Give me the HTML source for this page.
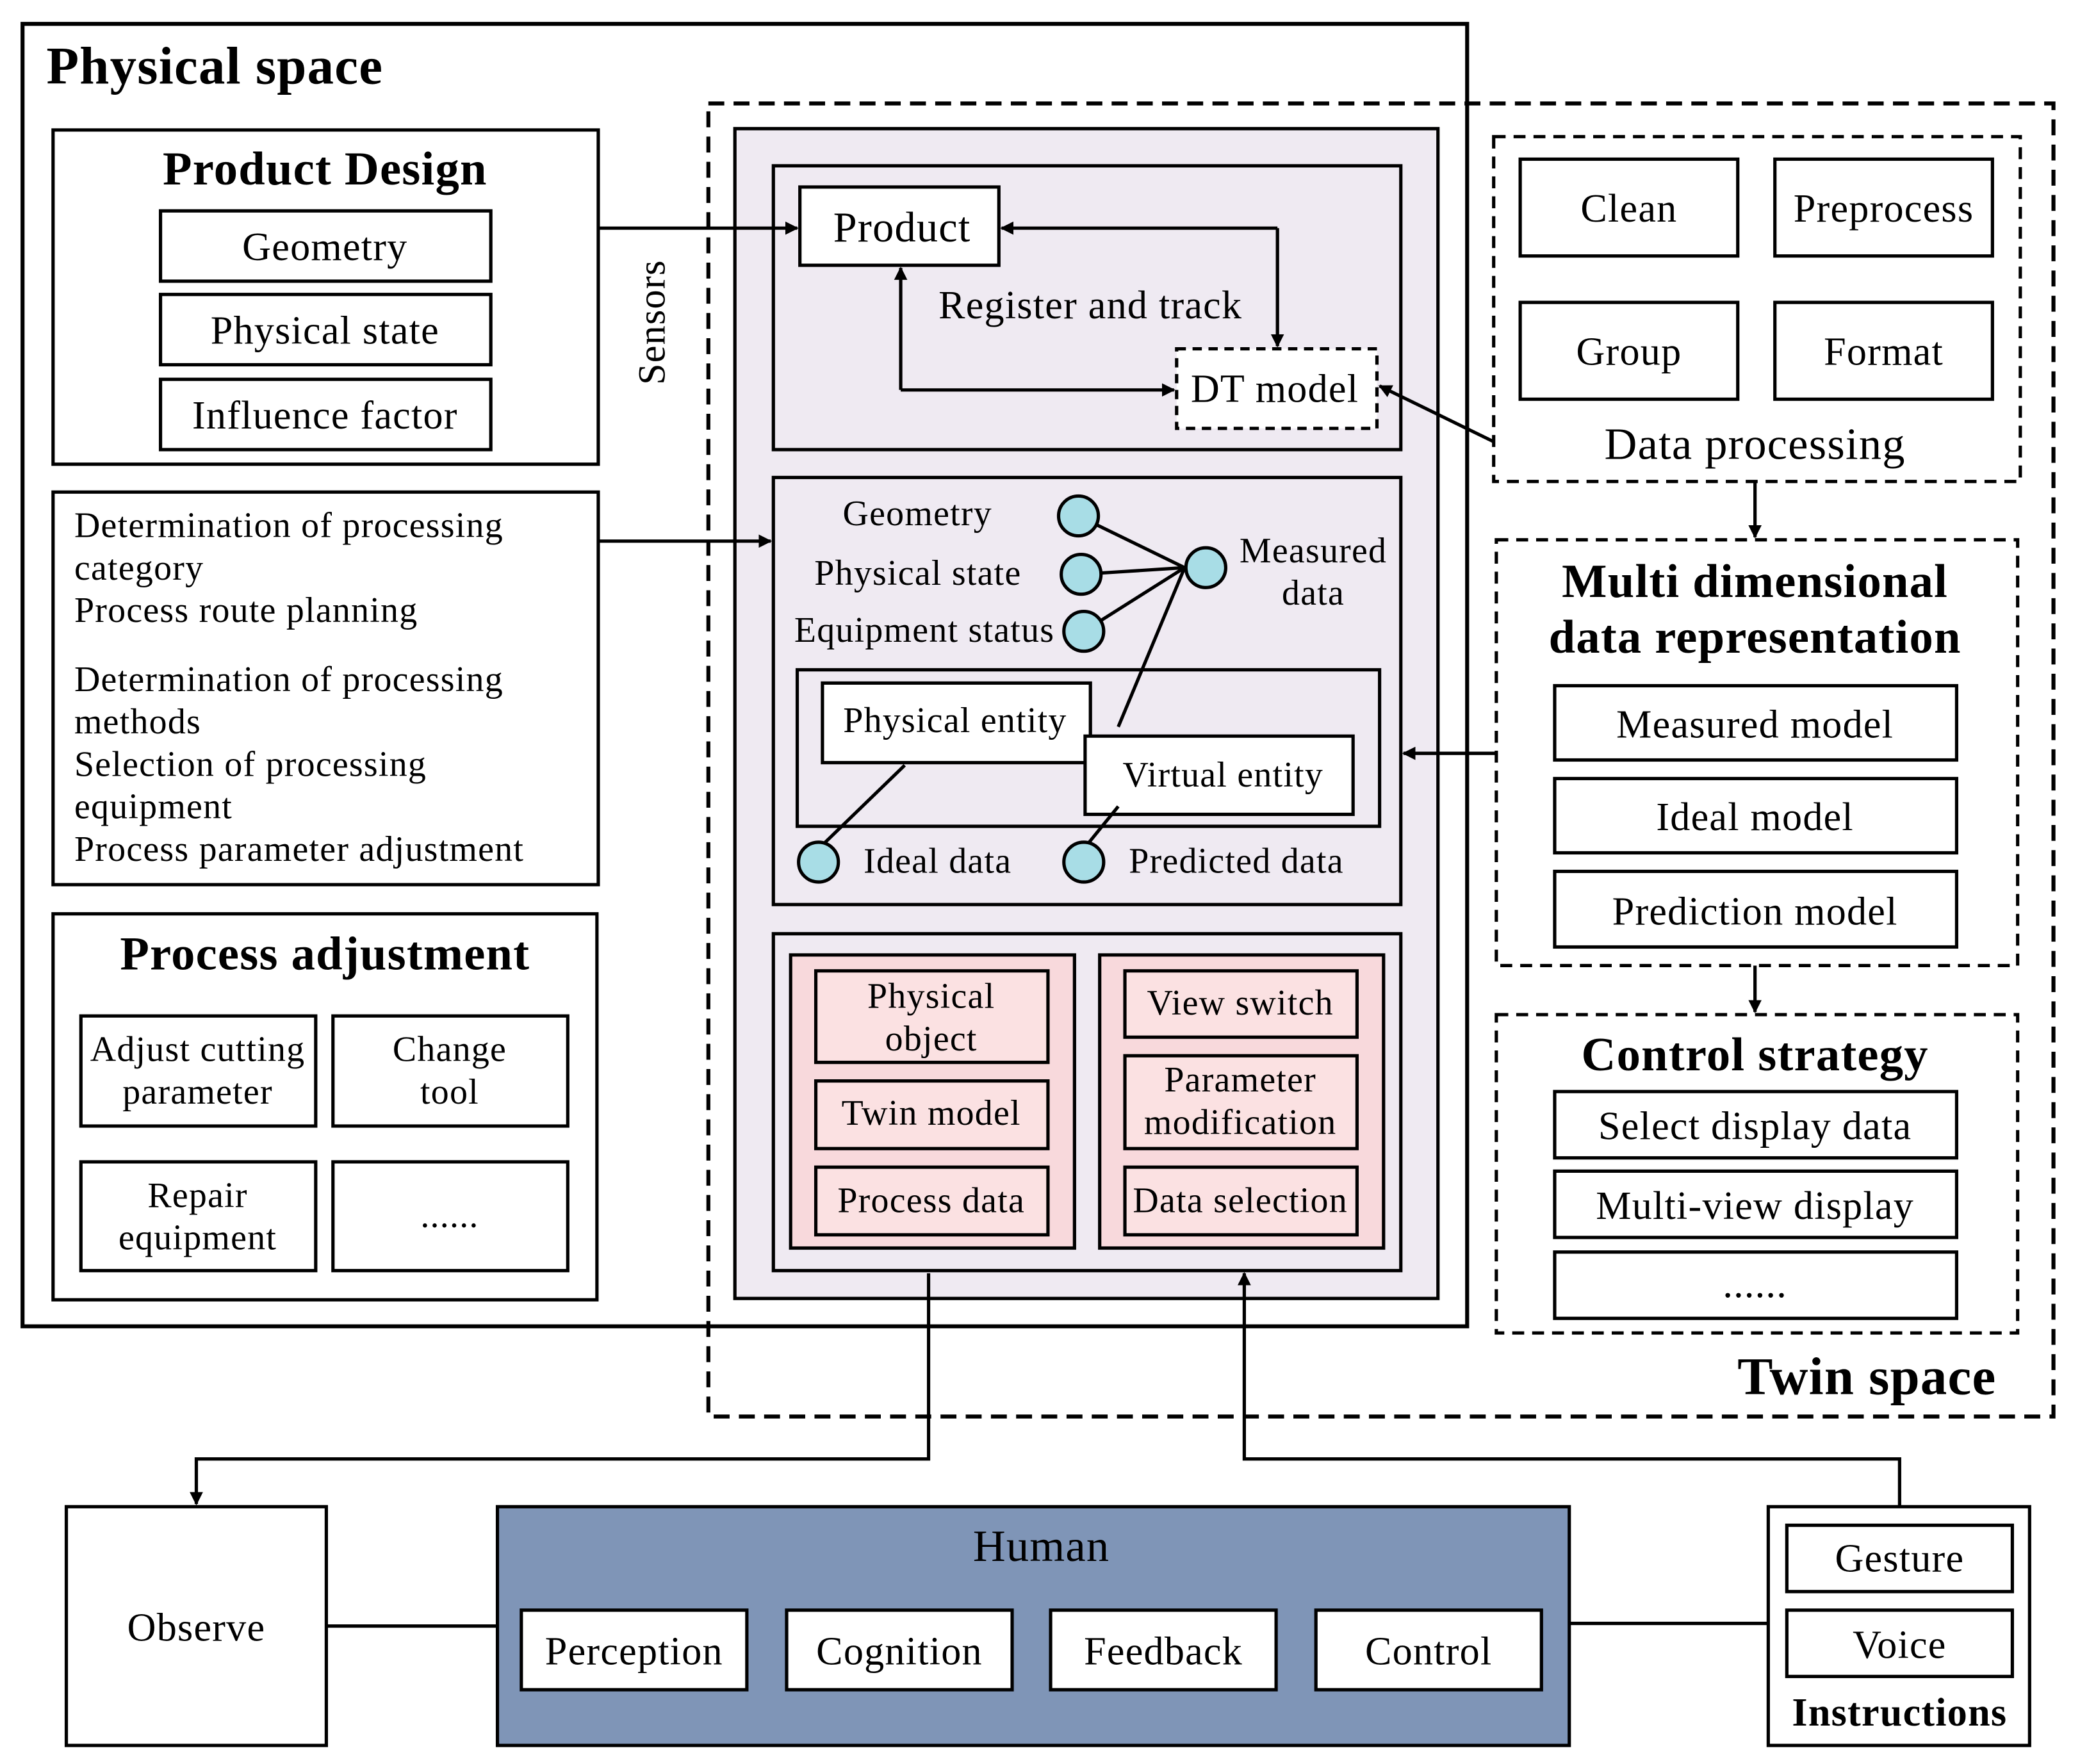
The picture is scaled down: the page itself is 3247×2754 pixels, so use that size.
<!DOCTYPE html>
<html><head><meta charset="utf-8"><style>
html,body{margin:0;padding:0;background:#fff;}
svg{display:block;}
text{font-family:"Liberation Serif",serif;fill:#000;letter-spacing:0.6px;}
</style></head><body>
<svg width="3247" height="2754" viewBox="0 0 1568 1330" preserveAspectRatio="none" xmlns="http://www.w3.org/2000/svg">
<defs>
<marker id="ah" markerWidth="10" markerHeight="10" refX="9" refY="5" orient="auto" markerUnits="userSpaceOnUse">
<path d="M0,0 L10,5 L0,10 z" fill="#000"/></marker>
</defs>
<g stroke="#000" fill="none">
<rect x="17" y="18" width="1089" height="982" stroke-width="3"/>
<rect x="534" y="78" width="1014" height="990" stroke-width="3" stroke-dasharray="12,7"/>
<rect x="40" y="98" width="411" height="252" stroke-width="2.5"/>
<rect x="121" y="159" width="249" height="53" stroke-width="2.5"/>
<rect x="121" y="222" width="249" height="53" stroke-width="2.5"/>
<rect x="121" y="286" width="249" height="53" stroke-width="2.5"/>
<rect x="40" y="371" width="411" height="296" stroke-width="2.5"/>
<rect x="40" y="689" width="410" height="291" stroke-width="2.5"/>
<rect x="61" y="766" width="177" height="83" stroke-width="2.5"/>
<rect x="251" y="766" width="177" height="83" stroke-width="2.5"/>
<rect x="61" y="876" width="177" height="82" stroke-width="2.5"/>
<rect x="251" y="876" width="177" height="82" stroke-width="2.5"/>
<rect x="554" y="97" width="530" height="882" fill="#efeaf2" stroke-width="2.5"/>
<rect x="583" y="125" width="473" height="214" stroke-width="2.5"/>
<rect x="603" y="141" width="150" height="59" fill="#fff" stroke-width="2.5"/>
<rect x="887" y="263" width="151" height="60" fill="#fff" stroke-width="2.5" stroke-dasharray="7,5"/>
<rect x="583" y="360" width="473" height="322" stroke-width="2.5"/>
<rect x="601" y="505" width="439" height="118" stroke-width="2.5"/>
<rect x="620" y="515" width="202" height="60" fill="#fff" stroke-width="2.5"/>
<rect x="818" y="555" width="202" height="59" fill="#fff" stroke-width="2.5"/>
<rect x="583" y="704" width="473" height="254" stroke-width="2.5"/>
<rect x="596" y="720" width="214" height="221" fill="#f8d9dc" stroke-width="2.5"/>
<rect x="829" y="720" width="214" height="221" fill="#f8d9dc" stroke-width="2.5"/>
<g fill="#fbe1e2" stroke-width="2.5">
<rect x="615" y="732" width="175" height="69"/>
<rect x="615" y="815" width="175" height="51"/>
<rect x="615" y="880" width="175" height="51"/>
<rect x="848" y="732" width="175" height="50"/>
<rect x="848" y="796" width="175" height="70"/>
<rect x="848" y="880" width="175" height="51"/>
</g>
<g stroke-width="2.5">
<line x1="813" y1="389" x2="893" y2="428"/>
<line x1="815" y1="433" x2="893" y2="428"/>
<line x1="817" y1="476" x2="893" y2="428"/>
<line x1="893" y1="428" x2="843" y2="548"/>
<line x1="617" y1="640" x2="682" y2="577"/>
<line x1="817" y1="640" x2="843" y2="608"/>
</g>
<g fill="#a8dde6" stroke-width="2.5">
<circle cx="813" cy="389" r="15"/><circle cx="815" cy="433" r="15"/><circle cx="817" cy="476" r="15"/>
<circle cx="909" cy="428" r="15"/><circle cx="617" cy="650" r="15"/><circle cx="817" cy="650" r="15"/>
</g>
<rect x="1126" y="103" width="397" height="260" stroke-width="2.5" stroke-dasharray="9,6"/>
<rect x="1146" y="120" width="164" height="73" stroke-width="2.5"/>
<rect x="1338" y="120" width="164" height="73" stroke-width="2.5"/>
<rect x="1146" y="228" width="164" height="73" stroke-width="2.5"/>
<rect x="1338" y="228" width="164" height="73" stroke-width="2.5"/>
<rect x="1128" y="407" width="393" height="321" stroke-width="2.5" stroke-dasharray="9,6"/>
<rect x="1172" y="517" width="303" height="56" stroke-width="2.5"/>
<rect x="1172" y="587" width="303" height="56" stroke-width="2.5"/>
<rect x="1172" y="657" width="303" height="57" stroke-width="2.5"/>
<rect x="1128" y="765" width="393" height="240" stroke-width="2.5" stroke-dasharray="9,6"/>
<rect x="1172" y="823" width="303" height="50" stroke-width="2.5"/>
<rect x="1172" y="883" width="303" height="50" stroke-width="2.5"/>
<rect x="1172" y="944" width="303" height="50" stroke-width="2.5"/>
<rect x="50" y="1136" width="196" height="180" stroke-width="2.5"/>
<rect x="375" y="1136" width="808" height="180" fill="#7f95b7" stroke-width="2.5"/>
<g fill="#fff" stroke-width="2.5">
<rect x="393" y="1214" width="170" height="60"/>
<rect x="593" y="1214" width="170" height="60"/>
<rect x="792" y="1214" width="170" height="60"/>
<rect x="992" y="1214" width="170" height="60"/>
</g>
<rect x="1333" y="1136" width="197" height="180" stroke-width="2.5"/>
<rect x="1347" y="1150" width="170" height="50" stroke-width="2.5"/>
<rect x="1347" y="1214" width="170" height="50" stroke-width="2.5"/>
<g stroke-width="2.5">
<line x1="451" y1="172" x2="601" y2="172" marker-end="url(#ah)"/>
<polyline points="963,172 963,261" marker-end="url(#ah)"/>
<polyline points="963,172 755,172" marker-end="url(#ah)"/>
<polyline points="679,294 885,294" marker-end="url(#ah)"/>
<polyline points="679,294 679,202" marker-end="url(#ah)"/>
<line x1="451" y1="408" x2="581" y2="408" marker-end="url(#ah)"/>
<line x1="1126" y1="333" x2="1040" y2="291" marker-end="url(#ah)"/>
<line x1="1323" y1="363" x2="1323" y2="405" marker-end="url(#ah)"/>
<line x1="1128" y1="568" x2="1058" y2="568" marker-end="url(#ah)"/>
<line x1="1323" y1="728" x2="1323" y2="763" marker-end="url(#ah)"/>
<line x1="246" y1="1226" x2="375" y2="1226"/>
<line x1="1183" y1="1224" x2="1333" y2="1224"/>
<polyline points="700,960 700,1100 148,1100 148,1134" marker-end="url(#ah)"/>
<polyline points="1432,1136 1432,1100 938,1100 938,960" marker-end="url(#ah)"/>
</g>
</g>
<text x="35" y="63" font-size="40" font-weight="bold">Physical space</text>
<text x="1505" y="1051" font-size="40" font-weight="bold" text-anchor="end">Twin space</text>
<g text-anchor="middle" font-size="30">
<text x="245" y="139" font-size="36" font-weight="bold">Product Design</text>
<text x="245" y="196">Geometry</text>
<text x="245" y="259">Physical state</text>
<text x="245" y="323">Influence factor</text>
<text x="245" y="731" font-size="36" font-weight="bold">Process adjustment</text>
<text x="149" y="800" font-size="27">Adjust cutting</text>
<text x="149" y="832" font-size="27">parameter</text>
<text x="339" y="800" font-size="27">Change</text>
<text x="339" y="832" font-size="27">tool</text>
<text x="149" y="910" font-size="27">Repair</text>
<text x="149" y="942" font-size="27">equipment</text>
<text x="339" y="925" font-size="27">......</text>
<text x="680" y="182" font-size="32">Product</text>
<text x="822" y="240">Register and track</text>
<text x="961" y="303">DT model</text>
<text x="990" y="424" font-size="27">Measured</text>
<text x="990" y="456" font-size="27">data</text>
<text x="720" y="552" font-size="27">Physical entity</text>
<text x="922" y="593" font-size="27">Virtual entity</text>
<text x="702" y="760" font-size="27">Physical</text>
<text x="702" y="792" font-size="27">object</text>
<text x="702" y="848" font-size="27">Twin model</text>
<text x="702" y="914" font-size="27">Process data</text>
<text x="935" y="765" font-size="27">View switch</text>
<text x="935" y="823" font-size="27">Parameter</text>
<text x="935" y="855" font-size="27">modification</text>
<text x="935" y="914" font-size="27">Data selection</text>
<text x="1228" y="167">Clean</text>
<text x="1420" y="167">Preprocess</text>
<text x="1228" y="275">Group</text>
<text x="1420" y="275">Format</text>
<text x="1323" y="346" font-size="34">Data processing</text>
<text x="1323" y="450" font-size="36" font-weight="bold">Multi dimensional</text>
<text x="1323" y="492" font-size="36" font-weight="bold">data representation</text>
<text x="1323" y="556">Measured model</text>
<text x="1323" y="626">Ideal model</text>
<text x="1323" y="697">Prediction model</text>
<text x="1323" y="807" font-size="36" font-weight="bold">Control strategy</text>
<text x="1323" y="859">Select display data</text>
<text x="1323" y="919">Multi-view display</text>
<text x="1323" y="978">......</text>
<text x="148" y="1237">Observe</text>
<text x="785" y="1177" font-size="34">Human</text>
<text x="478" y="1255">Perception</text>
<text x="678" y="1255">Cognition</text>
<text x="877" y="1255">Feedback</text>
<text x="1077" y="1255">Control</text>
<text x="1432" y="1185">Gesture</text>
<text x="1432" y="1250">Voice</text>
<text x="1432" y="1301" font-weight="bold">Instructions</text>
</g>
<g font-size="27">
<text x="56" y="405">Determination of processing</text>
<text x="56" y="437">category</text>
<text x="56" y="469">Process route planning</text>
<text x="56" y="521">Determination of processing</text>
<text x="56" y="553">methods</text>
<text x="56" y="585">Selection of processing</text>
<text x="56" y="617">equipment</text>
<text x="56" y="649">Process parameter adjustment</text>
<text x="748" y="396" text-anchor="end">Geometry</text>
<text x="770" y="441" text-anchor="end">Physical state</text>
<text x="795" y="484" text-anchor="end">Equipment status</text>
<text x="651" y="658">Ideal data</text>
<text x="851" y="658">Predicted data</text>
</g>
<text x="0" y="0" font-size="29" text-anchor="middle" transform="translate(501,243) rotate(-90)">Sensors</text>
</svg>
</body></html>
